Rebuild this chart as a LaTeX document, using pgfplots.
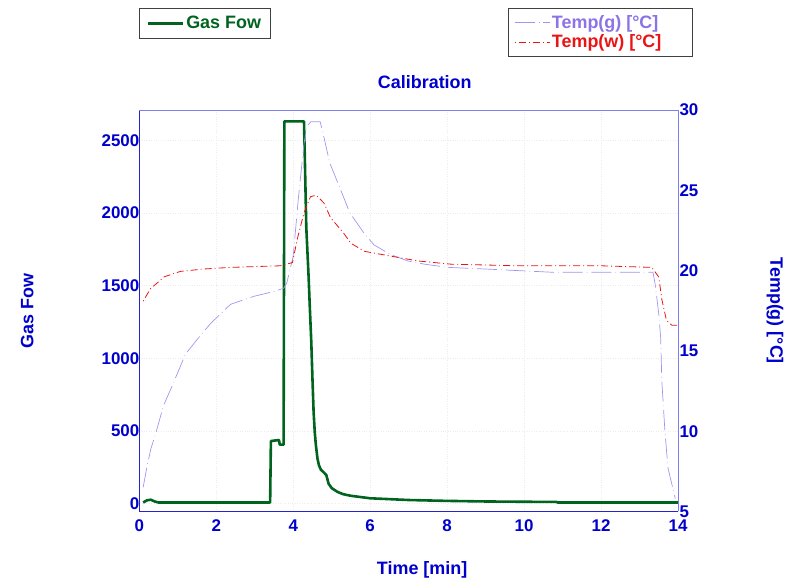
\documentclass[border=0pt]{standalone}
\usepackage{pgfplots}
\pgfplotsset{compat=1.18}
\usepackage{fontspec}
\setmainfont{Liberation Sans}

\definecolor{gasgreen}{RGB}{0,100,30}
\definecolor{tgline}{RGB}{160,150,240}
\definecolor{tgtext}{RGB}{140,115,230}
\definecolor{twcol}{RGB}{235,20,20}
\definecolor{axblue}{RGB}{35,35,210}
\definecolor{axlav}{RGB}{125,125,240}
\definecolor{txtblue}{RGB}{0,0,205}
\newcommand\cf{\fontsize{18}{21.5}\selectfont\bfseries}
\newcommand\tf{\fontsize{17}{20}\selectfont\bfseries}

\pgfplotsset{
  every axis title shift=0pt,
  base/.style={
    at={(139.3bp,71.5bp)}, anchor=south west,
    scale only axis, width=538.7bp, height=401.5bp,
    xmin=0, xmax=14,
    major tick length=0pt,
    tick label style={font=\tf, text=txtblue},
    label style={font=\cf, text=txtblue},
    /pgf/number format/assume math mode=true,
    legend cell align=left,
    legend image code/.code={\draw[##1] (0bp,0bp) -- (35bp,0bp);},
  },
}

\begin{document}
\begin{tikzpicture}
\useasboundingbox (0,0) rectangle (787bp,583bp);

% left axis: gas flow
\begin{axis}[
  base,
  ymin=-55, ymax=2708,
  axis x line*=bottom, axis y line*=left,
  axis line style={draw=axblue, line width=0.8bp, -},
  xtick={0,2,...,14}, ytick={0,500,...,2500},
  scaled y ticks=false,
  yticklabel style={/pgf/number format/1000 sep={}, xshift=3.5bp},
  xticklabel style={yshift=-5bp},
  grid=major, grid style={gray!15, dotted, line width=0.4bp},
  xlabel={Time [min]}, ylabel={Gas Fow},
  xlabel style={at={(axis description cs:0.525,-0.146)}, anchor=center},
  ylabel style={at={(axis description cs:-0.208,0.5)}, anchor=center},
  title={Calibration},
  title style={font=\cf, text=txtblue, at={(axis description cs:0.53,1.07)}, anchor=center},
  legend style={at={(axis description cs:0,1.254)}, anchor=north west,
    draw=black!75, line width=0.8bp, font=\cf, text=gasgreen,
    inner xsep=7bp, inner ysep=6bp},
]
\addplot[gasgreen, line width=2.6bp, line join=round] coordinates {
  (0.10,7) (0.20,22) (0.30,26) (0.40,14) (0.50,7) (3.40,7) (3.42,430)
  (3.63,437) (3.65,405) (3.75,405) (3.77,2630) (4.28,2630) (4.30,2400)
  (4.34,1900) (4.40,1560) (4.43,1360) (4.47,1110) (4.50,860) (4.53,630)
  (4.56,490) (4.59,400) (4.63,310) (4.67,262) (4.72,232) (4.78,218)
  (4.86,196) (4.92,136) (5.00,106) (5.15,80) (5.30,64) (5.50,53)
  (6.00,36) (7.00,24) (8.00,18) (9.00,14) (10.00,12) (10.85,11)
  (10.87,7) (12.00,7) (13.00,7) (14.00,7)
};
\addlegendentry{Gas Fow}
\end{axis}

% right axis: temperatures
\begin{axis}[
  base,
  ymin=5, ymax=30,
  axis x line*=top, axis y line*=right,
  axis line style={draw=axlav, line width=0.8bp, -},
  xtick=\empty, ytick={5,10,...,30},
  yticklabel style={anchor=west, xshift=-2bp},
  ylabel={Temp(g) [°C]},
  ylabel style={at={(axis description cs:1.18,0.5)}, anchor=center, rotate=180},
  legend style={at={(axis description cs:0.684,1.254)}, anchor=north west,
    draw=black!75, line width=0.8bp, font=\cf,
    inner xsep=6bp, inner ysep=5bp, row sep=1bp},
]
\addplot[draw=tgline, line width=0.7bp, dash pattern=on 20bp off 4bp on 0.6bp off 4bp] coordinates {
  (0.10,6.5) (0.20,7.8) (0.30,8.9) (0.42,9.8) (0.63,11.6) (0.85,12.8)
  (1.20,14.8) (1.50,15.7) (1.85,16.7) (2.37,17.9) (2.98,18.4) (3.50,18.7)
  (3.75,18.9) (3.83,19.2) (4.00,20.9) (4.13,24.4) (4.22,26.5) (4.28,27.9)
  (4.36,29.0) (4.46,29.27) (4.70,29.27) (4.78,28.5) (4.95,26.7) (5.17,25.4)
  (5.47,23.6) (5.82,22.4) (6.10,21.6) (6.53,21.0) (6.98,20.6) (7.41,20.4)
  (8.02,20.2) (8.98,20.1) (10.70,19.9) (12.00,19.9) (13.35,19.9)
  (13.41,19.1) (13.50,17.3) (13.55,15.8) (13.58,13.1) (13.66,10.0)
  (13.74,7.7) (13.93,5.8)
};
\addlegendentry{\textcolor{tgtext}{Temp(g) [°C]}\hspace*{26bp}}
\addplot[draw=twcol, line width=0.8bp, dash pattern=on 1bp off 3bp on 7bp off 3bp] coordinates {
  (0.10,18.1) (0.30,18.9) (0.55,19.4) (0.63,19.6) (1.07,19.95) (1.68,20.1)
  (2.37,20.2) (3.67,20.3) (3.98,20.5) (4.11,22.0) (4.28,23.6) (4.45,24.6)
  (4.60,24.7) (4.80,24.2) (4.97,23.3) (5.32,22.3) (5.50,21.7) (5.85,21.2)
  (6.54,20.9) (7.24,20.6) (8.10,20.4) (9.85,20.3) (12.00,20.3) (13.32,20.2)
  (13.50,19.6) (13.58,18.2) (13.70,16.9) (13.84,16.6) (14.00,16.6)
};
\addlegendentry{\textcolor{twcol}{Temp(w) [°C]}}
\end{axis}
\end{tikzpicture}
\end{document}
